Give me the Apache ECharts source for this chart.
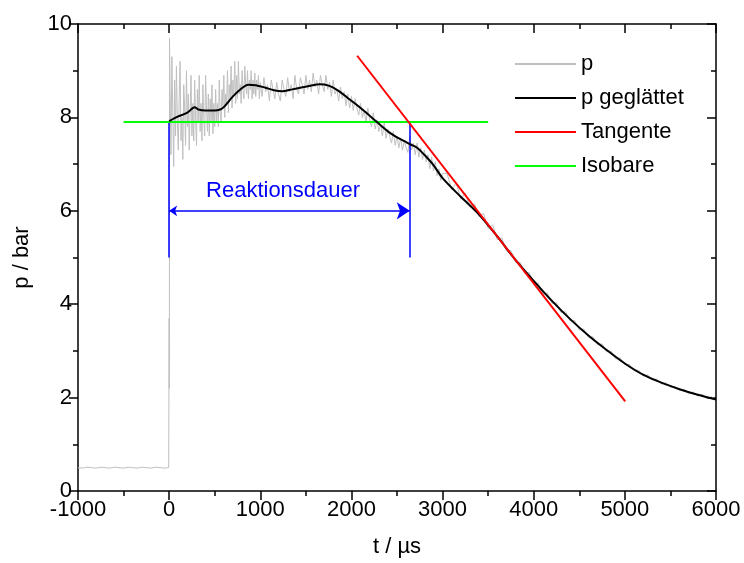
<!DOCTYPE html>
<html>
<head>
<meta charset="utf-8">
<script src="https://cdn.jsdelivr.net/npm/echarts@6/dist/echarts.min.js"></script>
<style>html,body{margin:0;padding:0;background:#fff}#c{width:744px;height:563px}</style>
</head>
<body>
<div id="c"></div>
<script>
// ---- data ----
const xTicks = [-1000, 0, 1000, 2000, 3000, 4000, 5000, 6000];
const yTicks = [0, 2, 4, 6, 8, 10];
const legendNames = ['p', 'p geglättet', 'Tangente', 'Isobare'];

// raw pressure signal p (t in µs, p in bar)
const pRaw = [
 [-1000,0.5],[-950,0.49],[-900,0.51],[-850,0.5],[-800,0.49],[-750,0.51],[-700,0.5],[-650,0.49],[-600,0.51],[-550,0.5],
 [-500,0.49],[-450,0.51],[-400,0.5],[-350,0.49],[-300,0.51],[-250,0.5],[-200,0.49],[-150,0.51],[-100,0.5],[-50,0.49],[-5,0.5],
 [0,0.52],[0,3.7],[2,2.2],[3,3.6],[4,9.7],
 [10,8.6],[20,7.2],[30,9.3],[40,8.1],[50,6.95],[60,8.8],[70,7.6],[80,9.1],[90,7.9],[100,7.3],
 [110,8.4],[120,9.2],[130,7.5],[140,8.0],[150,7.1],[160,8.7],[170,8.2],[180,7.4],[190,9.0],[200,7.8],
 [210,8.5],[220,7.3],[230,8.1],[240,8.9],[250,7.6],[260,8.3],[270,7.5],[280,8.8],[290,8.0],[300,7.4],
 [310,8.6],[320,7.9],[330,8.9],[340,7.7],[350,8.3],[360,7.5],[370,8.7],[380,8.0],[390,7.6],[400,8.9],
 [410,8.2],[420,7.7],[430,8.5],[440,7.6],[450,8.4],[460,7.9],[470,8.7],[480,7.65],[490,8.3],[500,7.8],
 [510,8.6],[520,7.9],[530,8.3],[540,7.8],[550,8.8],[560,8.1],[570,7.9],[580,8.6],[590,8.2],[600,8.9],
 [610,8.0],[620,8.5],[630,8.3],[640,9.0],[650,8.1],[660,8.7],[670,8.4],[680,9.1],[690,8.2],[700,8.8],
 [710,8.5],[720,9.2],[730,8.3],[740,8.9],[750,8.4],[760,9.2],[770,8.5],[780,8.7],[790,8.3],[800,9.0],
 [810,8.6],[820,8.4],[830,9.1],[840,8.7],[850,8.5],[860,9.0],[870,8.4],[880,8.8],[890,8.6],[900,9.0],
 [910,8.4],[920,8.8],[930,8.5],[940,8.95],[950,8.45],[960,8.8],[970,8.6],[980,8.9],[990,8.4],[1000,8.75],
 [1020,8.45],[1040,8.85],[1060,8.55],[1080,8.7],[1100,8.35],[1120,8.8],[1140,8.6],[1160,8.4],[1180,8.75],[1200,8.5],
 [1220,8.35],[1240,8.8],[1260,8.6],[1280,8.45],[1300,8.85],[1320,8.55],[1340,8.7],[1360,8.4],[1380,8.9],[1400,8.6],
 [1420,8.5],[1440,8.85],[1460,8.7],[1480,8.5],[1500,8.9],[1520,8.6],[1540,8.8],[1560,8.55],[1580,8.95],[1600,8.65],
 [1620,8.8],[1640,8.5],[1660,8.9],[1680,8.7],[1700,8.55],[1720,8.9],[1740,8.6],[1760,8.75],[1780,8.45],[1800,8.8],
 [1820,8.5],[1840,8.6],[1860,8.35],[1880,8.65],[1900,8.4],[1920,8.55],[1940,8.25],[1960,8.5],[1980,8.2],[2000,8.45],
 [2020,8.15],[2040,8.4],[2060,8.2],[2080,8.05],[2100,8.3],[2120,8.0],[2140,8.15],[2160,7.9],[2180,8.2],[2200,7.95],
 [2220,7.8],[2240,8.1],[2260,7.75],[2280,7.95],[2300,7.7],[2320,7.85],[2340,7.6],[2360,7.9],[2380,7.55],[2400,7.75],
 [2420,7.6],[2440,7.45],[2460,7.7],[2480,7.4],[2500,7.6],[2520,7.35],[2540,7.55],[2560,7.3],[2580,7.5],[2600,7.35],
 [2620,7.25],[2640,7.6],[2660,7.3],[2680,7.45],[2700,7.2],[2720,7.45],[2740,7.15],[2760,7.35],[2780,7.1],[2800,7.3],
 [2820,7.05],[2840,7.2],[2860,6.9],[2880,7.15],[2900,6.85],[2920,7.05],[2940,6.75],[2960,6.9],[2980,6.65],[3000,6.8],
 [3050,6.8],[3100,6.45],[3150,6.6],[3200,6.25],[3250,6.38],[3300,6.08],[3350,6.15],[3400,5.88],[3450,5.95],[3500,5.62],
 [3550,5.7],[3600,5.38],[3650,5.42],[3700,5.14],[3750,5.15],[3800,4.9],[3850,4.9],[3900,4.66],[3950,4.68],[4000,4.45],
 [4050,4.45],[4100,4.22],[4150,4.24],[4200,4.02],[4250,4.03],[4300,3.82],[4350,3.84],[4400,3.64],[4450,3.65],[4500,3.45],
 [4550,3.47],[4600,3.29],[4650,3.3],[4700,3.13],[4750,3.15],[4800,2.98],[4850,3.0],[4900,2.83],[4950,2.85],[5000,2.7],
 [5050,2.71],[5100,2.58],[5150,2.59],[5200,2.46],[5250,2.49],[5300,2.37],[5350,2.4],[5400,2.29],[5450,2.32],[5500,2.22],
 [5550,2.24],[5600,2.15],[5650,2.18],[5700,2.09],[5750,2.12],[5800,2.03],[5850,2.07],[5900,1.98],[5950,2.02],[6000,1.95]
];

// smoothed pressure
const pSmooth = [
 [0,7.92],[100,8.02],[200,8.1],[280,8.22],[320,8.17],[400,8.15],[500,8.15],[560,8.17],[600,8.22],[700,8.45],[800,8.63],
 [870,8.70],[950,8.69],[1050,8.64],[1150,8.58],[1240,8.56],[1350,8.6],[1450,8.64],[1550,8.68],[1650,8.71],[1750,8.68],
 [1850,8.58],[1950,8.43],[2050,8.28],[2150,8.12],[2280,7.9],[2400,7.7],[2500,7.57],[2600,7.47],[2650,7.42],[2720,7.35],
 [2800,7.2],[2900,6.98],[3000,6.7],[3200,6.3],[3400,5.92],[3600,5.45],[3800,4.95],[4000,4.5],[4200,4.07],[4400,3.68],
 [4600,3.33],[4800,3.02],[5000,2.73],[5200,2.49],[5400,2.32],[5600,2.18],[5800,2.06],[6000,1.96]
];

const tangente = [[2063, 9.32], [5004, 1.92]];
const isobare = [[-500, 7.9], [3500, 7.9]];

const reaktionStart = 0;
const reaktionEnd = 2640;
const markerBottom = 5;
const markerTop = 7.9;
const arrowLevel = 6;
const reaktionLabel = { text: 'Reaktionsdauer', t: 1250, p: 6.42 };

// ---- chart ----
const FONT = '"Liberation Sans", Arial, sans-serif';
const chart = echarts.init(document.getElementById('c'), null, { renderer: 'canvas' });
const axisLineStyle = { color: '#000', width: 1.5 };
const plainNum = v => String(v);

chart.setOption({
  animation: false,
  backgroundColor: '#fff',
  grid: { left: 78, right: 28, top: 24, bottom: 70, containLabel: false },
  legend: {
    data: legendNames,
    orient: 'vertical',
    left: 515, top: 53,
    padding: 0,
    itemGap: 12,
    itemWidth: 61, itemHeight: 2,
    icon: 'rect',
    textStyle: { fontFamily: FONT, fontSize: 22, color: '#000', lineHeight: 22 }
  },
  xAxis: [
    {
      type: 'value', position: 'bottom',
      min: xTicks[0], max: xTicks[xTicks.length - 1], interval: 1000,
      name: 't / µs', nameLocation: 'middle', nameGap: 45,
      nameTextStyle: { fontFamily: FONT, fontSize: 22, color: '#000' },
      axisLine: { show: true, onZero: false, lineStyle: axisLineStyle },
      axisTick: { show: true, inside: false, length: 9, lineStyle: axisLineStyle },
      minorTick: { show: true, splitNumber: 2, length: 5, lineStyle: axisLineStyle },
      axisLabel: { fontFamily: FONT, fontSize: 22, color: '#000', margin: 8, formatter: plainNum },
      splitLine: { show: false }
    },
    {
      type: 'value', position: 'top',
      min: xTicks[0], max: xTicks[xTicks.length - 1], interval: 1000,
      axisLine: { show: true, onZero: false, lineStyle: axisLineStyle },
      axisTick: { show: true, inside: true, length: 9, lineStyle: axisLineStyle },
      minorTick: { show: true, splitNumber: 2, length: 5, lineStyle: axisLineStyle },
      axisLabel: { show: false },
      splitLine: { show: false }
    }
  ],
  yAxis: [
    {
      type: 'value', position: 'left',
      min: yTicks[0], max: yTicks[yTicks.length - 1], interval: 2,
      name: 'p / bar', nameLocation: 'middle', nameGap: 45,
      nameTextStyle: { fontFamily: FONT, fontSize: 22, color: '#000' },
      axisLine: { show: true, onZero: false, lineStyle: axisLineStyle },
      axisTick: { show: true, inside: false, length: 9, lineStyle: axisLineStyle },
      minorTick: { show: true, splitNumber: 2, length: 5, lineStyle: axisLineStyle },
      axisLabel: { fontFamily: FONT, fontSize: 22, color: '#000', margin: 6, formatter: plainNum },
      splitLine: { show: false }
    },
    {
      type: 'value', position: 'right',
      min: yTicks[0], max: yTicks[yTicks.length - 1], interval: 2,
      axisLine: { show: true, onZero: false, lineStyle: axisLineStyle },
      axisTick: { show: true, inside: true, length: 9, lineStyle: axisLineStyle },
      minorTick: { show: true, splitNumber: 2, length: 5, lineStyle: axisLineStyle },
      axisLabel: { show: false },
      splitLine: { show: false }
    }
  ],
  series: [
    {
      name: 'p', type: 'line', data: pRaw, showSymbol: false, symbol: 'none',
      lineStyle: { color: '#c0c0c0', width: 1 }, itemStyle: { color: '#c0c0c0' }, z: 1
    },
    {
      name: 'p geglättet', type: 'line', data: pSmooth, showSymbol: false, symbol: 'none', smooth: 0.3,
      lineStyle: { color: '#000', width: 2 }, itemStyle: { color: '#000' }, z: 3
    },
    {
      name: 'Tangente', type: 'line', data: tangente, showSymbol: false, symbol: 'none',
      lineStyle: { color: '#ff0000', width: 2 }, itemStyle: { color: '#ff0000' }, z: 4
    },
    {
      name: 'Isobare', type: 'line', data: isobare, showSymbol: false, symbol: 'none',
      lineStyle: { color: '#00ff00', width: 2 }, itemStyle: { color: '#00ff00' }, z: 2
    },
    {
      name: 'markers', type: 'lines', coordinateSystem: 'cartesian2d', symbol: 'none',
      lineStyle: { color: '#0000ff', width: 1.5, opacity: 1 }, z: 2,
      data: [
        { coords: [[reaktionStart, markerBottom], [reaktionStart, markerTop]] },
        { coords: [[reaktionEnd, markerBottom], [reaktionEnd, markerTop]] }
      ]
    },
    {
      name: 'arrow', type: 'lines', coordinateSystem: 'cartesian2d', symbol: ['arrow', 'arrow'], symbolSize: [8, 13],
      lineStyle: { color: '#0000ff', width: 1.5, opacity: 1 }, z: 2,
      data: [{ coords: [[reaktionStart, arrowLevel], [reaktionEnd, arrowLevel]] }]
    },
    {
      name: 'label', type: 'scatter', symbolSize: 1, itemStyle: { color: 'rgba(0,0,0,0)', opacity: 1 }, z: 5,
      data: [[reaktionLabel.t, reaktionLabel.p]],
      label: { show: true, position: 'inside', formatter: reaktionLabel.text,
        fontFamily: FONT, fontSize: 22, color: '#0000ff', opacity: 1, textBorderWidth: 0 }
    }
  ]
});
</script>
</body>
</html>
